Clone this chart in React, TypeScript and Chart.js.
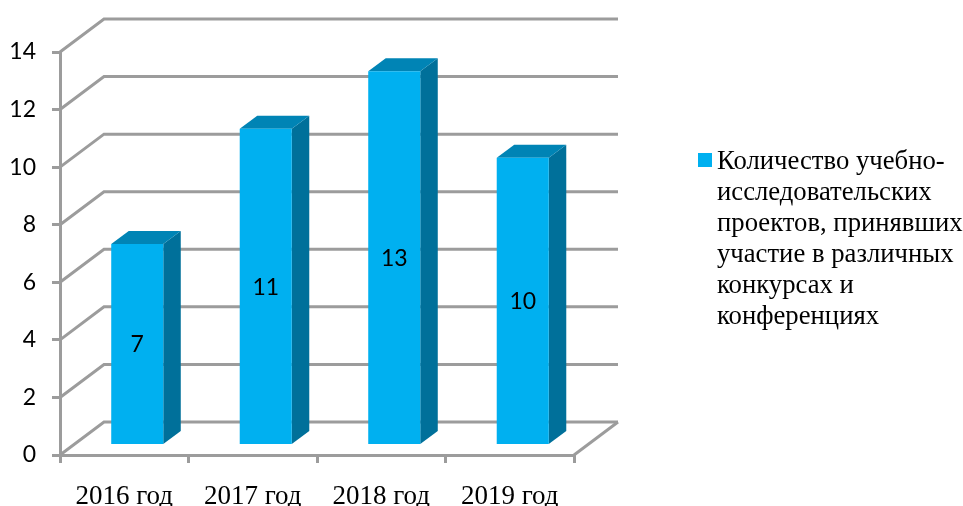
import React, { useEffect, useRef } from "react";
import { Chart, registerables, Plugin } from "chart.js";

Chart.register(...registerables);

const categories = ["2016 год", "2017 год", "2018 год", "2019 год"];
const seriesValues = [7, 11, 13, 10];
const legendLines = [
  "Количество учебно-",
  "исследовательских",
  "проектов, принявших",
  "участие в различных",
  "конкурсах и",
  "конференциях",
];
const yMax = 14;
const yStep = 2;

const FRONT = "#00B0F0";
const TOP = "#0084B5";
const SIDE = "#00709A";
const LINE = "#9C9C9C";
const SERIF = '"Liberation Serif", serif';
const SANS = "Lato, sans-serif";

const WALL_DX = 44;
const WALL_DY = -33;
const BAR_SHIFT_X = 13;
const BAR_SHIFT_Y = -9.5;
const BAR_DX = 17.5;
const BAR_DY = -13;

const poly = (ctx: CanvasRenderingContext2D, pts: number[][], fill: string) => {
  ctx.beginPath();
  pts.forEach(([x, y], i) => (i ? ctx.lineTo(x, y) : ctx.moveTo(x, y)));
  ctx.closePath();
  ctx.fillStyle = fill;
  ctx.fill();
};

const wallPlugin: Plugin = {
  id: "wall",
  beforeDatasetsDraw(chart) {
    const { ctx, scales } = chart;
    const y = scales.y;
    const x = scales.x;
    ctx.save();
    ctx.strokeStyle = LINE;
    ctx.lineWidth = 3;
    ctx.lineJoin = "miter";
    y.ticks.forEach((t: any) => {
      const py = y.getPixelForValue(t.value);
      ctx.beginPath();
      ctx.moveTo(x.left, py);
      ctx.lineTo(x.left + WALL_DX, py + WALL_DY);
      ctx.lineTo(x.right + WALL_DX, py + WALL_DY);
      ctx.stroke();
    });
    const by = y.getPixelForValue(0);
    ctx.beginPath();
    ctx.moveTo(x.right + WALL_DX, by + WALL_DY);
    ctx.lineTo(x.right, by);
    ctx.stroke();
    ctx.restore();
  },
};

const barDepthPlugin: Plugin = {
  id: "barDepth",
  beforeDatasetsDraw(chart) {
    const { ctx } = chart;
    ctx.save();
    ctx.translate(BAR_SHIFT_X, BAR_SHIFT_Y);
    chart.getDatasetMeta(0).data.forEach((el: any) => {
      const l = el.x - el.width / 2;
      const r = el.x + el.width / 2;
      poly(ctx, [[r, el.y], [r + BAR_DX, el.y + BAR_DY], [r + BAR_DX, el.base + BAR_DY], [r, el.base]], SIDE);
      poly(ctx, [[l, el.y], [l + BAR_DX, el.y + BAR_DY], [r + BAR_DX, el.y + BAR_DY], [r, el.y]], TOP);
    });
  },
  afterDatasetsDraw(chart) {
    const { ctx } = chart;
    ctx.fillStyle = "#000";
    ctx.font = `23px ${SANS}`;
    ctx.textAlign = "center";
    ctx.textBaseline = "middle";
    chart.getDatasetMeta(0).data.forEach((el: any, i: number) => {
      ctx.fillText(String(seriesValues[i]), el.x, (el.y + el.base) / 2 + 1);
    });
    ctx.restore();
  },
};

const legendPlugin: Plugin = {
  id: "sideLegend",
  afterDraw(chart) {
    const { ctx } = chart;
    ctx.save();
    ctx.fillStyle = FRONT;
    ctx.fillRect(698, 153, 14, 14);
    ctx.fillStyle = "#000";
    ctx.font = `26.7px ${SERIF}`;
    ctx.textAlign = "left";
    ctx.textBaseline = "alphabetic";
    legendLines.forEach((line, i) => ctx.fillText(line, 717, 169 + i * 31));
    ctx.restore();
  },
};

export default function App() {
  const ref = useRef<HTMLCanvasElement>(null);
  useEffect(() => {
    const chart = new Chart(ref.current!, {
      type: "bar",
      data: {
        labels: categories,
        datasets: [
          {
            label: legendLines.join(" "),
            data: seriesValues,
            backgroundColor: FRONT,
            borderWidth: 0,
            barPercentage: 0.405,
            categoryPercentage: 1,
          },
        ],
      },
      options: {
        responsive: false,
        animation: false,
        devicePixelRatio: 1,
        layout: { padding: { left: 0, top: 52, right: 389, bottom: 0 } },
        plugins: { legend: { display: false }, title: { display: false }, tooltip: { enabled: false } },
        scales: {
          x: {
            afterFit: (s: any) => {
              s.height = 51;
            },
            offset: true,
            grid: { offset: true, drawOnChartArea: false, drawTicks: true, tickLength: 8, color: LINE, lineWidth: 3 },
            border: { color: LINE, width: 3 },
            ticks: { color: "#000", font: { family: SERIF, size: 27 }, padding: 18, maxRotation: 0 },
          },
          y: {
            min: 0,
            max: yMax,
            afterFit: (s: any) => {
              s.width = 60;
            },
            grid: { drawOnChartArea: false, drawTicks: true, tickLength: 8, color: LINE, lineWidth: 3 },
            border: { color: LINE, width: 3 },
            ticks: { stepSize: yStep, color: "#000", font: { family: SANS, size: 23 }, padding: 16 },
          },
        },
      },
      plugins: [wallPlugin, barDepthPlugin, legendPlugin],
    });
    return () => chart.destroy();
  }, []);
  return (
    <div style={{ position: "fixed", left: 0, top: 0, width: 963, height: 506, background: "#fff" }}>
      <canvas ref={ref} width={963} height={506} style={{ display: "block" }} />
    </div>
  );
}
